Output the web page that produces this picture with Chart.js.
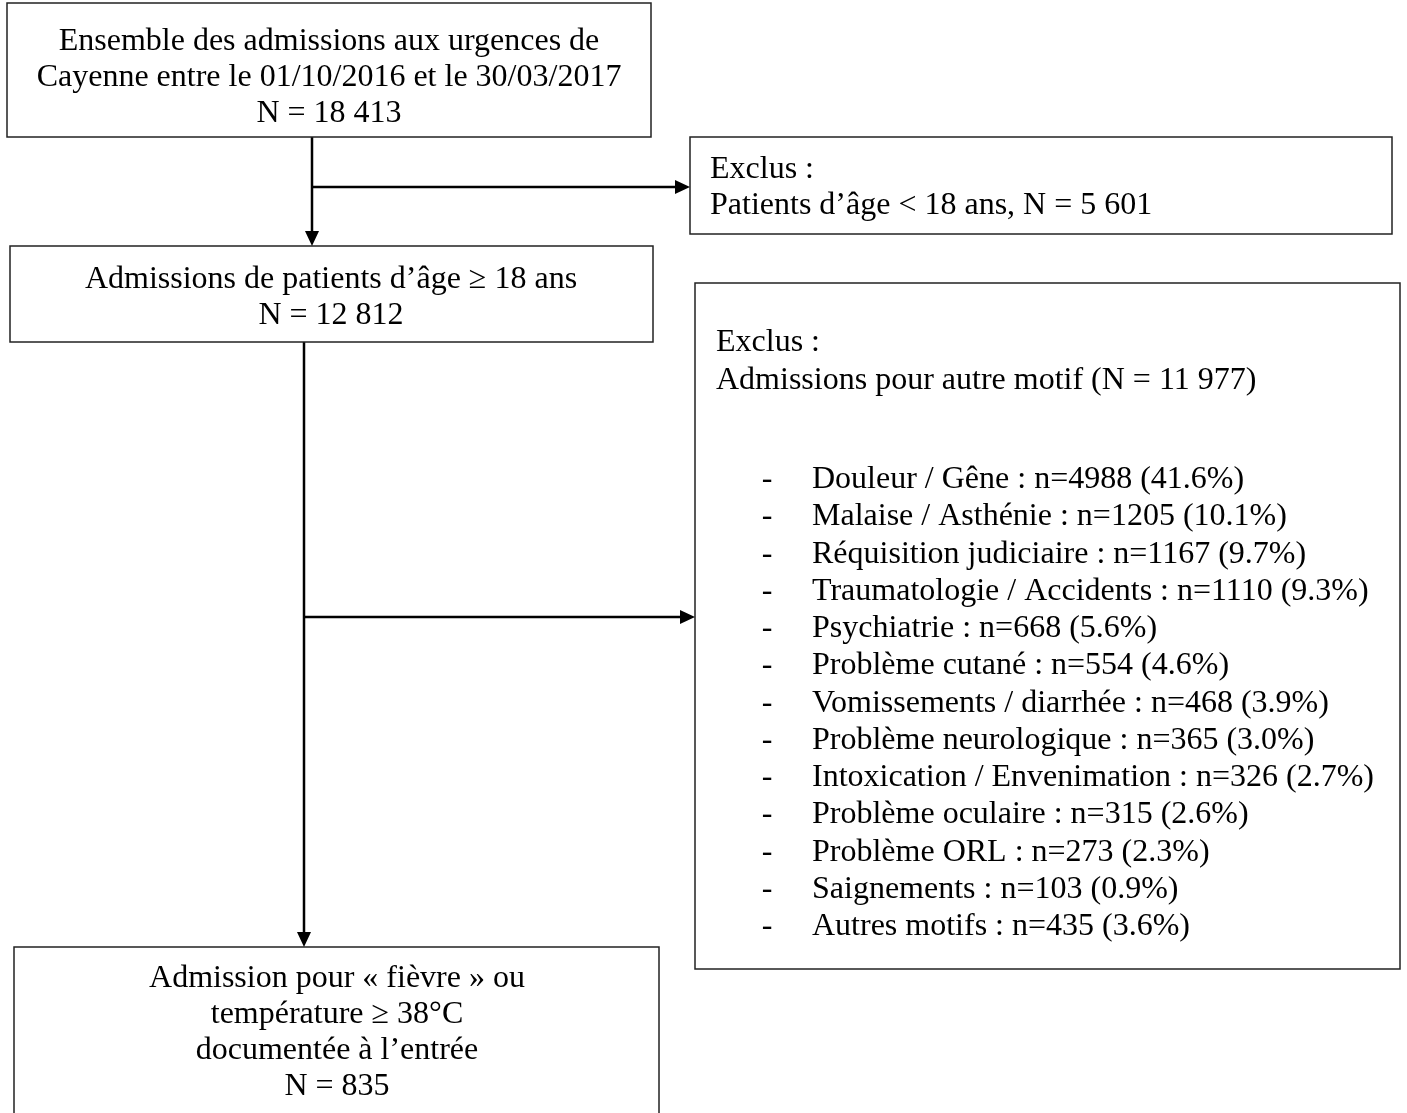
<!DOCTYPE html>
<html><head><meta charset="utf-8">
<script src="https://cdn.jsdelivr.net/npm/chart.js@4/dist/chart.umd.min.js"></script>
<style>html,body{margin:0;padding:0;background:#fff;}canvas{display:block;}</style>
</head><body>
<canvas id="c" width="1407" height="1113"></canvas>
<script>
// ---- Data ----
const totalN = "18 413";
const adultN = "12 812";
const minorN = "5 601";
const otherN = "11 977";
const feverN = "835";
const motifs = ["Douleur / Gêne","Malaise / Asthénie","Réquisition judiciaire","Traumatologie / Accidents","Psychiatrie","Problème cutané","Vomissements / diarrhée","Problème neurologique","Intoxication / Envenimation","Problème oculaire","Problème ORL","Saignements","Autres motifs"];
const motifCounts = [4988,1205,1167,1110,668,554,468,365,326,315,273,103,435];
const motifPct = ["41.6","10.1","9.7","9.3","5.6","4.6","3.9","3.0","2.7","2.6","2.3","0.9","3.6"];

// ---- Layout (in diagram units, mapped through the chart scales) ----
const boxes = [
  {x0:7,y0:3,x1:651,y1:137, align:'center', cx:329, lines:["Ensemble des admissions aux urgences de","Cayenne entre le 01/10/2016 et le 30/03/2017","N = "+totalN], ys:[50,86,122]},
  {x0:690,y0:137,x1:1392,y1:234, align:'left', cx:710, lines:["Exclus :","Patients d’âge < 18 ans, N = "+minorN], ys:[178,214]},
  {x0:10,y0:246,x1:653,y1:342, align:'center', cx:331, lines:["Admissions de patients d’âge ≥ 18 ans","N = "+adultN], ys:[288,324]},
  {x0:695,y0:283,x1:1400,y1:969, align:'left', cx:716, lines:["Exclus :","Admissions pour autre motif (N = "+otherN+")"], ys:[351,389], list:true},
  {x0:14,y0:947,x1:659,y1:1125, align:'center', cx:337, lines:["Admission pour « fièvre » ou","température ≥ 38°C","documentée à l’entrée","N = "+feverN], ys:[987,1023,1059,1095]}
];
const connectors = [
  {pts:[[312,137],[312,246]], arrow:'down'},
  {pts:[[312,187],[690,187]], arrow:'right'},
  {pts:[[304,342],[304,947]], arrow:'down'},
  {pts:[[304,617],[695,617]], arrow:'right'}
];
const listStartY = 488, listStep = 37.25, dashX = 767, listTextX = 812;
const FONT = '32px "Liberation Serif", "Times New Roman", serif';

const diagramPlugin = {
  id:'diagram',
  afterDatasetsDraw(chart){
    const ctx = chart.ctx, xs = chart.scales.x, ysc = chart.scales.y;
    const X = v => xs.getPixelForValue(v), Y = v => ysc.getPixelForValue(v);
    ctx.save();
    boxes.forEach(b=>{
      ctx.strokeStyle = '#222'; ctx.lineWidth = 1.5;
      ctx.strokeRect(X(b.x0), Y(b.y0), X(b.x1)-X(b.x0), Y(b.y1)-Y(b.y0));
      ctx.fillStyle = '#000'; ctx.font = FONT; ctx.textBaseline = 'alphabetic';
      ctx.textAlign = b.align;
      b.lines.forEach((t,i)=> ctx.fillText(t, X(b.cx), Y(b.ys[i])));
      if(b.list){
        motifs.forEach((m,i)=>{
          const yy = Y(listStartY + i*listStep);
          ctx.textAlign = 'center';
          ctx.fillText('-', X(dashX), yy);
          ctx.textAlign = 'left';
          ctx.fillText(m + ' : n=' + motifCounts[i] + ' (' + motifPct[i] + '%)', X(listTextX), yy);
        });
      }
    });
    ctx.fillStyle = '#000';
    connectors.forEach(c=>{
      const [tx,ty] = c.pts[c.pts.length-1];
      const px = X(tx), py = Y(ty);
      ctx.beginPath();
      if(c.arrow==='down'){ ctx.moveTo(px,py); ctx.lineTo(px-7,py-15); ctx.lineTo(px+7,py-15); }
      else { ctx.moveTo(px,py); ctx.lineTo(px-15,py-7); ctx.lineTo(px-15,py+7); }
      ctx.closePath(); ctx.fill();
    });
    ctx.restore();
  }
};

const datasets = connectors.map(c=>({
  data: c.pts.map(([x,y],i)=>{
    if(i===c.pts.length-1){ return c.arrow==='down'?{x, y:y-10}:{x:x-10, y}; }
    return {x,y};
  }),
  showLine:true, borderColor:'#000', borderWidth:2.5, pointRadius:0, fill:false
}));

new Chart(document.getElementById('c'), {
  type:'scatter',
  data:{datasets},
  options:{
    responsive:false, devicePixelRatio:1, animation:false,
    layout:{padding:0},
    plugins:{legend:{display:false}, tooltip:{enabled:false}},
    scales:{
      x:{type:'linear', min:0, max:1407, display:false},
      y:{type:'linear', min:0, max:1113, reverse:true, display:false}
    }
  },
  plugins:[diagramPlugin]
});
</script>
</body></html>
